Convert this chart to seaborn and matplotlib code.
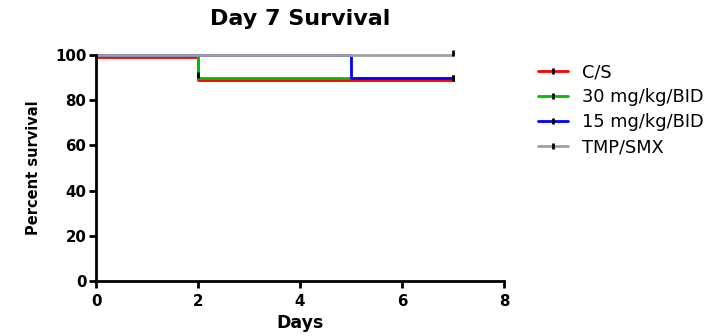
import matplotlib
matplotlib.use("Agg")
import matplotlib.pyplot as plt
import seaborn as sns
import pandas as pd
from matplotlib.lines import Line2D

sns.set_style("ticks")
plt.rcParams['font.family'] = ['DejaVu Sans']
plt.rcParams['text.color'] = 'black'
plt.rcParams['axes.labelcolor'] = 'black'
plt.rcParams['xtick.color'] = 'black'
plt.rcParams['ytick.color'] = 'black'

groups = ["C/S", "30 mg/kg/BID", "15 mg/kg/BID", "TMP/SMX"]
colors = ["#ff0000", "#00c000", "#0000ff", "#a0a0a0"]
cs_days = [0, 2, 7]
cs_surv = [99, 89, 89]
d30_days = [0, 2, 7]
d30_surv = [100, 90, 90]
d15_days = [0, 5, 7]
d15_surv = [100, 90, 90]
tmp_days = [0, 7]
tmp_surv = [100, 100]
censor_days = [2, 7, 7, 7]
censor_surv = [91, 90, 101, 90]

rows = []
for g, d, s in zip(groups, [cs_days, d30_days, d15_days, tmp_days],
                   [cs_surv, d30_surv, d15_surv, tmp_surv]):
    for x, y in zip(d, s):
        rows.append({"Days": x, "Survival": y, "Group": g})
df = pd.DataFrame(rows)

fig = plt.figure(figsize=(7.23, 3.36), dpi=100)
ax = fig.add_axes([96/723, 1-281/336, (504-96)/723, (281-55)/336])

for g in groups:
    sub = df[df.Group == g]
    sns.lineplot(data=sub, x="Days", y="Survival", ax=ax, color=colors[groups.index(g)],
                 drawstyle="steps-post", lw=2, legend=False, clip_on=False,
                 estimator=None, sort=False)

ax.scatter(censor_days, censor_surv, marker="|", color="black", s=25, linewidths=2,
           clip_on=False, zorder=5)

ax.set_xlim(0, 8)
ax.set_ylim(0, 100)
ax.set_xticks([0, 2, 4, 6, 8])
ax.set_yticks([0, 20, 40, 60, 80, 100])
for lab in ax.get_xticklabels() + ax.get_yticklabels():
    lab.set_fontweight("bold")
    lab.set_fontsize(10.8)
ax.tick_params(width=2, length=5, color="black", pad=2)
ax.tick_params(axis="x", pad=4)
for sp in ["left", "bottom"]:
    ax.spines[sp].set_linewidth(2)
    ax.spines[sp].set_color("black")
sns.despine(ax=ax)
ax.set_xlabel("Days", fontsize=12.5, fontweight="bold", labelpad=4)
ax.set_ylabel("Percent survival", fontsize=10.5, fontweight="bold", labelpad=10)
fig.text(300/723, 1-19/336, "Day 7 Survival", ha="center", va="center",
         fontsize=16, fontweight="bold")

handles = [Line2D([0, 0.5, 1], [0, 0, 0], color=c, lw=2) for c in colors]
leg = fig.legend(handles, groups, loc="upper left", bbox_to_anchor=(531/723, 1-56/336),
                 frameon=False, fontsize=12.8, handlelength=1.7, labelspacing=0.4,
                 handletextpad=0.75, borderaxespad=0)
for h in leg.get_lines():
    h.set_marker("|")
    h.set_markersize(5)
    h.set_markeredgecolor("black")
    h.set_markeredgewidth(2)
    h.set_markevery([1])

fig.savefig("out.png", dpi=100)
